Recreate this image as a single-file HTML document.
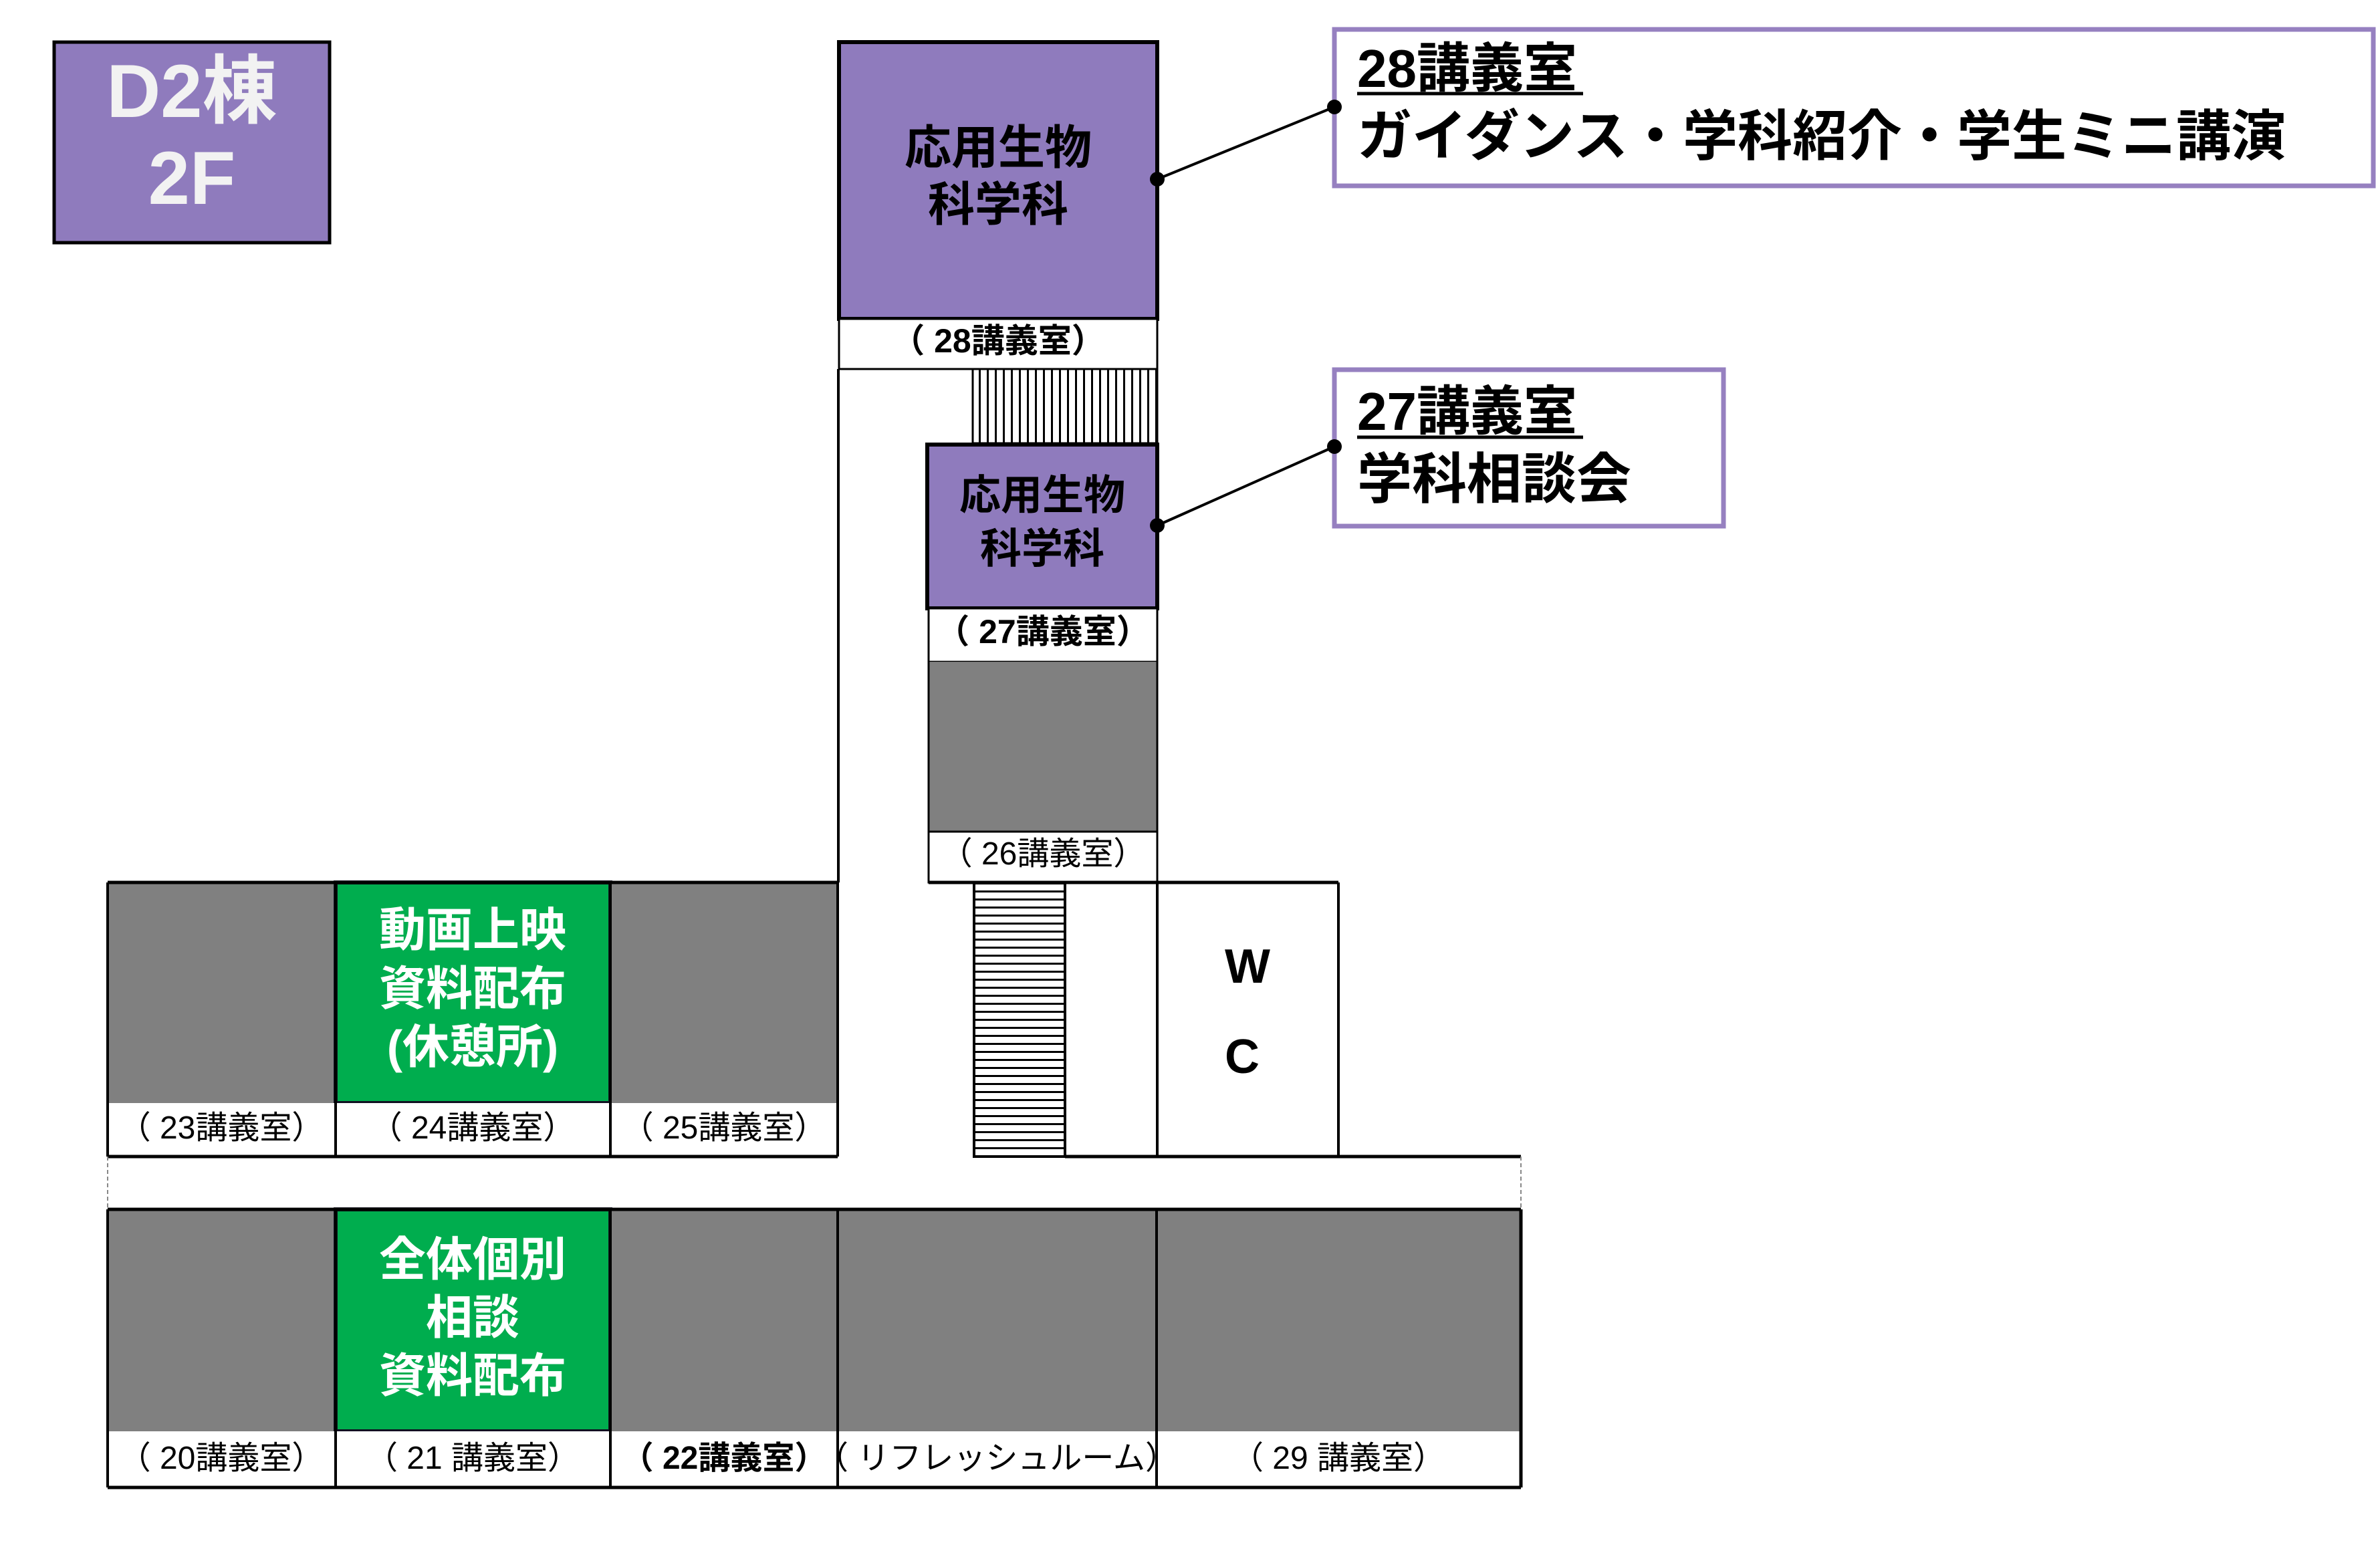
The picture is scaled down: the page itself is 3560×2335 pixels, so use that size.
<!DOCTYPE html>
<html><head><meta charset="utf-8"><style>
html,body{margin:0;padding:0;background:#fff;}
svg{display:block;}
text{font-family:"Liberation Sans","Noto Sans CJK JP",sans-serif;}
</style></head><body>
<svg width="3560" height="2335" viewBox="0 0 3560 2335" xmlns="http://www.w3.org/2000/svg">
<defs>
<pattern id="hst" width="12" height="12" patternUnits="userSpaceOnUse"><rect width="12" height="12" fill="#fff"/><rect y="0" width="12" height="3" fill="#000"/></pattern>
<pattern id="vst" width="12" height="12" patternUnits="userSpaceOnUse"><rect width="12" height="12" fill="#fff"/><rect x="0" width="3" height="12" fill="#000"/></pattern>
</defs>
<rect x="0" y="0" width="3560" height="2335" fill="#fff"/>

<rect x="81" y="63" width="412" height="300" fill="#8f7bbd" stroke="#000" stroke-width="5"/>
<text x="287" y="175" font-size="112" font-weight="bold" fill="#f2f2f2" text-anchor="middle">D2棟</text>
<text x="287" y="305" font-size="112" font-weight="bold" fill="#f2f2f2" text-anchor="middle">2F</text>

<rect x="1255" y="63" width="476" height="414" fill="#8f7bbd" stroke="#000" stroke-width="6"/>
<text x="1493" y="245" font-size="70" font-weight="bold" text-anchor="middle">応用生物</text>
<text x="1493" y="330" font-size="70" font-weight="bold" text-anchor="middle">科学科</text>
<rect x="1255" y="477" width="476" height="75" fill="#fff" stroke="#000" stroke-width="3"/>
<text x="1493" y="527" font-size="50" font-weight="bold" text-anchor="middle">（ 28講義室）</text>

<rect x="1455" y="552" width="276" height="111" fill="url(#vst)" stroke="#000" stroke-width="3"/>
<line x1="1254" y1="552" x2="1254" y2="1320" stroke="#000" stroke-width="4"/>

<rect x="1387" y="665" width="344" height="245" fill="#8f7bbd" stroke="#000" stroke-width="6"/>
<text x="1559" y="762" font-size="62" font-weight="bold" text-anchor="middle">応用生物</text>
<text x="1559" y="842" font-size="62" font-weight="bold" text-anchor="middle">科学科</text>
<rect x="1389" y="910" width="342" height="80" fill="#fff" stroke="#000" stroke-width="3"/>
<text x="1560" y="962" font-size="50" font-weight="bold" text-anchor="middle">（ 27講義室）</text>

<rect x="1389" y="990" width="342" height="254" fill="#808080"/>
<rect x="1389" y="1244" width="342" height="76" fill="#fff" stroke="#000" stroke-width="3"/>
<line x1="1389" y1="990" x2="1389" y2="1320" stroke="#000" stroke-width="3"/>
<line x1="1731" y1="990" x2="1731" y2="1320" stroke="#000" stroke-width="3"/>
<text x="1560" y="1293" font-size="48" text-anchor="middle">（ 26講義室）</text>

<rect x="161" y="1320" width="341" height="330" fill="#808080"/>
<rect x="502" y="1320" width="411" height="330" fill="#00ad4e" stroke="#112" stroke-width="6"/>
<rect x="913" y="1320" width="340" height="330" fill="#808080"/>
<rect x="161" y="1650" width="1092" height="80" fill="#fff"/>
<line x1="161" y1="1320" x2="1253" y2="1320" stroke="#000" stroke-width="5"/>
<line x1="161" y1="1730" x2="1253" y2="1730" stroke="#000" stroke-width="5"/>
<line x1="161" y1="1320" x2="161" y2="1730" stroke="#000" stroke-width="4"/>
<line x1="502" y1="1320" x2="502" y2="1730" stroke="#000" stroke-width="4"/>
<line x1="913" y1="1320" x2="913" y2="1730" stroke="#000" stroke-width="4"/>
<line x1="1253" y1="1320" x2="1253" y2="1730" stroke="#000" stroke-width="4"/>
<text x="707" y="1415" font-size="70" font-weight="bold" fill="#fff" text-anchor="middle">動画上映</text>
<text x="707" y="1503" font-size="70" font-weight="bold" fill="#fff" text-anchor="middle">資料配布</text>
<text x="707" y="1590" font-size="70" font-weight="bold" fill="#fff" text-anchor="middle">(休憩所)</text>
<text x="331" y="1703" font-size="48" text-anchor="middle">（ 23講義室）</text>
<text x="707" y="1703" font-size="48" text-anchor="middle">（ 24講義室）</text>
<text x="1083" y="1703" font-size="48" text-anchor="middle">（ 25講義室）</text>

<rect x="1457" y="1320" width="136" height="410" fill="url(#hst)" stroke="#000" stroke-width="4"/>
<line x1="1389" y1="1320" x2="2002" y2="1320" stroke="#000" stroke-width="5"/>
<line x1="1731" y1="1320" x2="1731" y2="1730" stroke="#000" stroke-width="4"/>
<line x1="2002" y1="1320" x2="2002" y2="1730" stroke="#000" stroke-width="4"/>
<line x1="1593" y1="1730" x2="2275" y2="1730" stroke="#000" stroke-width="5"/>
<text x="1866" y="1470" font-size="72" font-weight="bold" text-anchor="middle">W</text>
<text x="1858" y="1605" font-size="72" font-weight="bold" text-anchor="middle">C</text>

<line x1="161" y1="1730" x2="161" y2="1809" stroke="#888" stroke-width="2" stroke-dasharray="6,4"/>
<line x1="2275" y1="1730" x2="2275" y2="1809" stroke="#888" stroke-width="2" stroke-dasharray="6,4"/>

<rect x="161" y="1809" width="341" height="332" fill="#808080"/>
<rect x="502" y="1809" width="411" height="332" fill="#00ad4e" stroke="#112" stroke-width="6"/>
<rect x="913" y="1809" width="340" height="332" fill="#808080"/>
<rect x="1253" y="1809" width="477" height="332" fill="#808080"/>
<rect x="1730" y="1809" width="545" height="332" fill="#808080"/>
<rect x="161" y="2141" width="2114" height="84" fill="#fff"/>
<line x1="161" y1="1809" x2="2275" y2="1809" stroke="#000" stroke-width="5"/>
<line x1="161" y1="2225" x2="2275" y2="2225" stroke="#000" stroke-width="5"/>
<line x1="161" y1="1809" x2="161" y2="2225" stroke="#000" stroke-width="4"/>
<line x1="502" y1="1809" x2="502" y2="2225" stroke="#000" stroke-width="4"/>
<line x1="913" y1="1809" x2="913" y2="2225" stroke="#000" stroke-width="4"/>
<line x1="1253" y1="1809" x2="1253" y2="2225" stroke="#000" stroke-width="4"/>
<line x1="1730" y1="1809" x2="1730" y2="2225" stroke="#000" stroke-width="4"/>
<line x1="2275" y1="1809" x2="2275" y2="2225" stroke="#000" stroke-width="5"/>
<text x="707" y="1908" font-size="70" font-weight="bold" fill="#fff" text-anchor="middle">全体個別</text>
<text x="707" y="1995" font-size="70" font-weight="bold" fill="#fff" text-anchor="middle">相談</text>
<text x="707" y="2082" font-size="70" font-weight="bold" fill="#fff" text-anchor="middle">資料配布</text>
<text x="331" y="2197" font-size="48" text-anchor="middle">（ 20講義室）</text>
<text x="707" y="2197" font-size="48" text-anchor="middle">（ 21 講義室）</text>
<text x="1083" y="2197" font-size="48" font-weight="bold" text-anchor="middle">（ 22講義室）</text>
<text x="1491" y="2197" font-size="48" text-anchor="middle">（ リフレッシュルーム）</text>
<text x="2002" y="2197" font-size="48" text-anchor="middle">（ 29 講義室）</text>

<rect x="1996" y="44" width="1554" height="234" fill="#fff" stroke="#9680c0" stroke-width="7"/>
<text x="2030" y="130" font-size="80" font-weight="bold">28講義室</text>
<line x1="2030" y1="140" x2="2368" y2="140" stroke="#000" stroke-width="5"/>
<text x="2030" y="232" font-size="82" font-weight="bold">ガイダンス・学科紹介・学生ミニ講演</text>
<line x1="1731" y1="268" x2="1996" y2="160" stroke="#000" stroke-width="4"/>
<circle cx="1731" cy="268" r="11"/><circle cx="1996" cy="160" r="11"/>

<rect x="1996" y="553" width="582" height="234" fill="#fff" stroke="#9680c0" stroke-width="7"/>
<text x="2030" y="643" font-size="80" font-weight="bold">27講義室</text>
<line x1="2030" y1="654" x2="2368" y2="654" stroke="#000" stroke-width="5"/>
<text x="2030" y="745" font-size="82" font-weight="bold">学科相談会</text>
<line x1="1731" y1="786" x2="1996" y2="668" stroke="#000" stroke-width="4"/>
<circle cx="1731" cy="786" r="11"/><circle cx="1996" cy="668" r="11"/>
</svg>
</body></html>
